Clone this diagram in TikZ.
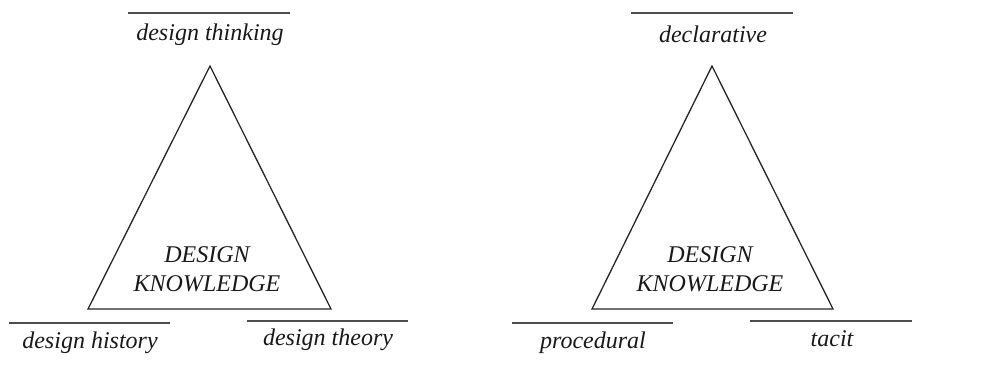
\documentclass[tikz,border=0pt]{standalone}
\usepackage{fontspec}
\setmainfont{Liberation Serif}
\begin{document}
\begin{tikzpicture}[x=1pt,y=-1pt,
  tri/.style={draw=black!85, line width=1.3pt, line join=miter},
  rule/.style={draw=black!70, line width=1.6pt},
  lbl/.style={font=\fontsize{24}{28}\selectfont\itshape, text=black!90, inner sep=0pt, anchor=center},
  core/.style={font=\fontsize{24}{29}\selectfont\itshape, text=black!90, align=center, inner sep=0pt, anchor=center}]
\useasboundingbox (0,0) rectangle (984,365);
% left triangle
\coordinate (LA) at (210,66);
\coordinate (LB) at (88,309);
\coordinate (LC) at (331,309);
\draw[tri] (LA) -- (LB) -- (LC) -- cycle;
\node[core] (LK) at (207,269) {DESIGN\\KNOWLEDGE};
\coordinate (l1a) at (128,13); \coordinate (l1b) at (290,13);
\draw[rule] (l1a) -- (l1b);
\node[lbl] (ltop) at (210,35) {design thinking};
\coordinate (l2a) at (9,323); \coordinate (l2b) at (170,323);
\draw[rule] (l2a) -- (l2b);
\node[lbl] (lbl2) at (90,343) {design history};
\coordinate (l3a) at (247,321); \coordinate (l3b) at (408,321);
\draw[rule] (l3a) -- (l3b);
\node[lbl] (lbl3) at (328,340) {design theory};
% right triangle
\coordinate (RA) at (712,66);
\coordinate (RB) at (592,309);
\coordinate (RC) at (833,309);
\draw[tri] (RA) -- (RB) -- (RC) -- cycle;
\node[core] (RK) at (710,269) {DESIGN\\KNOWLEDGE};
\coordinate (r1a) at (631,13); \coordinate (r1b) at (793,13);
\draw[rule] (r1a) -- (r1b);
\node[lbl] (rtop) at (713,34) {declarative};
\coordinate (r2a) at (512,323); \coordinate (r2b) at (673,323);
\draw[rule] (r2a) -- (r2b);
\node[lbl] (rbl2) at (593,343) {procedural};
\coordinate (r3a) at (750,321); \coordinate (r3b) at (912,321);
\draw[rule] (r3a) -- (r3b);
\node[lbl] (rbl3) at (832,339) {tacit};
\end{tikzpicture}
\end{document}
